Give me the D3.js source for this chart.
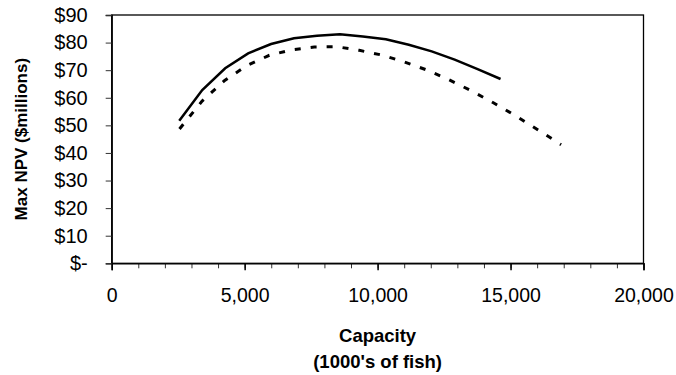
<!DOCTYPE html>
<html>
<head>
<meta charset="utf-8">
<script src="https://cdn.jsdelivr.net/npm/d3@7/dist/d3.min.js"></script>
<style>
  body { margin: 0; background: #fff; }
  text { font-family: Arial, "Liberation Sans", sans-serif; }
</style>
</head>
<body>
<div id="chart"></div>
<script>
// capacity (1000's of fish) and max NPV ($ millions)
var solidCapacity = [2540, 3405, 4268, 5131, 5994, 6857, 7720, 8583, 9446, 10309, 11172, 12035, 12898, 13761, 14624];
var solidNPV      = [51.7, 62.8, 70.7, 76.1, 79.5, 81.6, 82.5, 83.0, 82.2, 81.2, 79.2, 76.8, 73.8, 70.4, 66.8];

var dashCapacity = [2550, 3400, 4250, 5090, 5930, 6780, 7620, 8470, 9310, 10150, 11000, 11840, 12690, 13530, 14370, 15220, 16060, 16900];
var dashNPV      = [48.7, 58.8, 66.3, 71.7, 75.4, 77.4, 78.4, 78.5, 77.2, 75.5, 73.0, 70.1, 66.5, 62.5, 58.1, 53.3, 48.2, 43.0];

var xTicks = [0, 5000, 10000, 15000, 20000];
var yTicks = [0, 10, 20, 30, 40, 50, 60, 70, 80, 90];

function init() {
    var w = 676, h = 375;
    var left = 111.7, top = 15, right = 643.5, bottom = 263.3;

    var svg = d3.select("#chart").append("svg")
        .attr("width", w)
        .attr("height", h);

    var x = d3.scaleLinear().domain([0, 20000]).range([left, right]);
    var y = d3.scaleLinear().domain([0, 90]).range([bottom, top]);

    // frame
    svg.append("rect")
       .attr("x", left).attr("y", top)
       .attr("width", right - left).attr("height", bottom - top)
       .attr("fill", "none").attr("stroke", "#000").attr("stroke-width", 1.3);

    // minor x ticks
    var minor = d3.range(0, 20001, 1000);
    svg.append("g")
       .attr("transform", "translate(0," + bottom + ")")
       .call(d3.axisBottom(x).tickValues(minor).tickSize(5).tickFormat(""))
       .call(function(g) { g.select(".domain").remove(); })
       .selectAll("line").attr("stroke", "#333").attr("stroke-width", 1);

    // major x axis
    var gx = svg.append("g")
       .attr("transform", "translate(0," + bottom + ")")
       .call(d3.axisBottom(x).tickValues(xTicks).tickSize(7).tickPadding(18)
             .tickFormat(d3.format(",")));
    gx.select(".domain").attr("stroke", "#000").attr("stroke-width", 1.3);
    gx.selectAll("line").attr("stroke", "#000").attr("stroke-width", 1.5);
    gx.selectAll("text").attr("font-size", "19.5px").attr("fill", "#000");

    // y axis
    var gy = svg.append("g")
       .attr("transform", "translate(" + left + ",0)")
       .call(d3.axisLeft(y).tickValues(yTicks).tickSize(6).tickPadding(18)
             .tickFormat(function(d) { return d === 0 ? "$-" : "$" + d; }));
    gy.select(".domain").attr("stroke", "#000").attr("stroke-width", 1.3);
    gy.selectAll("line").attr("stroke", "#333").attr("stroke-width", 1);
    gy.selectAll("text").attr("font-size", "20px").attr("fill", "#000");

    var line = d3.line()
        .x(function(d) { return x(d[0]); })
        .y(function(d) { return y(d[1]); });

    svg.append("path")
       .datum(d3.zip(dashCapacity, dashNPV))
       .attr("d", line)
       .attr("fill", "none")
       .attr("stroke", "#000")
       .attr("stroke-width", 3)
       .attr("stroke-dasharray", "6,10");

    svg.append("path")
       .datum(d3.zip(solidCapacity, solidNPV))
       .attr("d", line)
       .attr("fill", "none")
       .attr("stroke", "#000")
       .attr("stroke-width", 2.5);

    // titles
    svg.append("text")
       .attr("x", (left + right) / 2).attr("y", 342)
       .attr("text-anchor", "middle")
       .attr("font-size", "18.5px").attr("font-weight", "bold")
       .text("Capacity");
    svg.append("text")
       .attr("x", (left + right) / 2).attr("y", 368)
       .attr("text-anchor", "middle")
       .attr("font-size", "18.5px").attr("font-weight", "bold")
       .text("(1000's of fish)");
    svg.append("text")
       .attr("transform", "translate(27," + (top + bottom) / 2 + ") rotate(-90)")
       .attr("text-anchor", "middle")
       .attr("font-size", "17px").attr("font-weight", "bold")
       .text("Max NPV ($millions)");
}

window.onload = init;
</script>
</body>
</html>
